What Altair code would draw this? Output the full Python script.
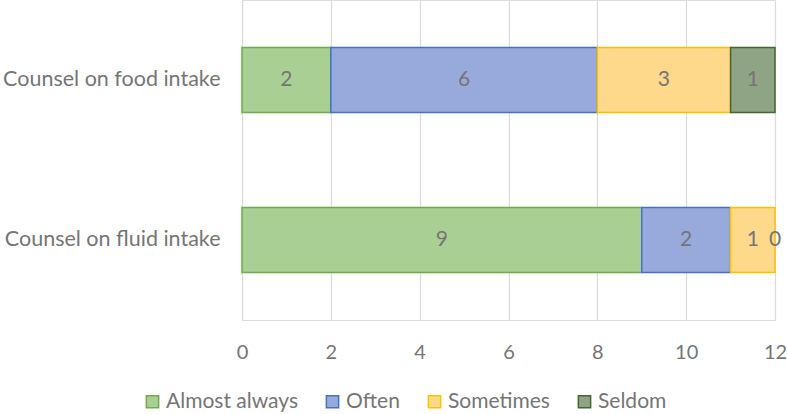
import altair as alt
import pandas as pd

categories = ["Counsel on food intake", "Counsel on fluid intake"]
series = ["Almost always", "Often", "Sometimes", "Seldom"]
food_values = [2, 6, 3, 1]
fluid_values = [9, 2, 1, 0]
x_ticks = [0, 2, 4, 6, 8, 10, 12]

fill_colors = ["#aacf95", "#97aadb", "#fed88b", "#8fa385"]
stroke_colors = ["#70ad47", "#4472c4", "#ffc000", "#43682b"]

rows = []
for cat, vals in zip(categories, [food_values, fluid_values]):
    for i, (s, v) in enumerate(zip(series, vals)):
        rows.append({"category": cat, "series": s, "value": v, "order": i})
df = pd.DataFrame(rows)

FONT = "Lato"
GRAY = "#757575"
FS = 21

base = alt.Chart(df).transform_stack(
    stack="value", groupby=["category"], as_=["x0", "x1"],
    sort=[alt.SortField("order", order="ascending")]
).transform_calculate(mid="(datum.x0 + datum.x1) / 2")

y_enc = alt.Y("category:N", sort=categories, title=None,
              scale=alt.Scale(paddingInner=0.594, paddingOuter=0.297),
              axis=alt.Axis(labelFont=FONT, labelFontSize=21.5, labelColor=GRAY,
                            labelPadding=22, ticks=False, domain=False, grid=False,
                            labelLimit=300))

bars = base.transform_filter("datum.value > 0").mark_bar(strokeWidth=1.5).encode(
    x=alt.X("x0:Q", title=None, scale=alt.Scale(domain=[0, 12], nice=False),
            axis=alt.Axis(values=x_ticks, labelFont=FONT, labelFontSize=20,
                          labelColor=GRAY, labelPadding=22, ticks=False,
                          domain=False, grid=True, gridColor="#d9d9d9",
                          gridWidth=1.2, labelFlush=False)),
    x2="x1:Q",
    y=y_enc,
    fill=alt.Fill("series:N", sort=series, title=None,
                  scale=alt.Scale(domain=series, range=fill_colors),
                  legend=alt.Legend(orient="none", direction="horizontal",
                                    legendX=-100, legendY=391,
                                    labelFont=FONT, labelFontSize=FS,
                                    labelColor=GRAY, symbolType="square",
                                    symbolSize=150, symbolStrokeWidth=1.5,
                                    columnPadding=24, labelOffset=3)),
    stroke=alt.Stroke("series:N", sort=series, title=None,
                      scale=alt.Scale(domain=series, range=stroke_colors)),
)

labels = base.mark_text(font=FONT, fontSize=FS, color=GRAY).encode(
    x="mid:Q",
    y=alt.Y("category:N", sort=categories),
    text="value:Q",
)

chart = alt.layer(bars, labels).properties(
    width=533, height=320,
    autosize=alt.AutoSizeParams(type="none"),
    padding={"left": 242, "top": 0, "right": 12, "bottom": 94},
).configure_view(stroke=None).configure(background="white")

chart.save("out.html", embed_options={"renderer": "svg", "actions": False})
